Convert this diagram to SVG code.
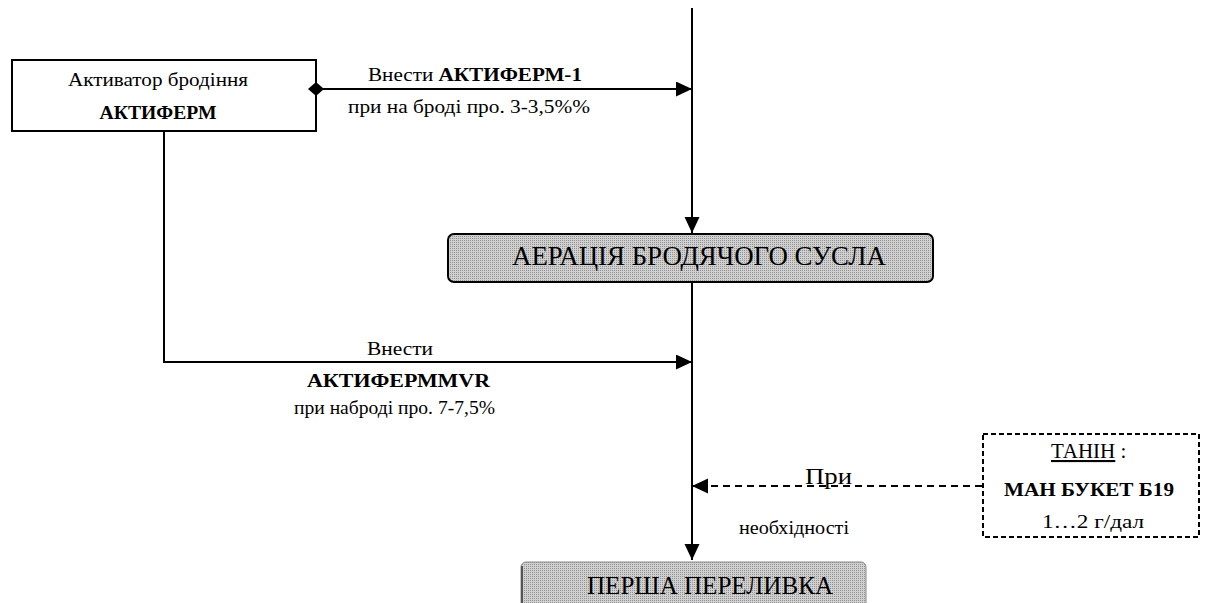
<svg xmlns="http://www.w3.org/2000/svg" width="1205" height="603" viewBox="0 0 1205 603">
<style>
text{font-family:"Liberation Serif","Times New Roman",serif;fill:#000}
.b{font-weight:bold}
.ln{stroke:#000;stroke-width:2;fill:none}
.dash{stroke:#000;stroke-width:2;fill:none;stroke-dasharray:7,5}
</style>
<defs>
<pattern id="tex" width="2" height="2" patternUnits="userSpaceOnUse">
<rect width="2" height="2" fill="#d0d0d0"/>
<rect width="1" height="1" fill="#929292"/>
</pattern>
<marker id="arr" markerUnits="userSpaceOnUse" markerWidth="17" markerHeight="16" refX="16" refY="7.5" orient="auto">
<path d="M0,0 L16,7.5 L0,15 z" fill="#000"/>
</marker>
<marker id="dia" markerUnits="userSpaceOnUse" markerWidth="18" markerHeight="18" refX="9" refY="9" orient="auto">
<path d="M1,9 L9,2 L17,9 L9,16 z" fill="#000"/>
</marker>
</defs>
<rect width="1205" height="603" fill="#fff"/>

<g id="activator">
<rect x="12" y="60" width="304" height="71" fill="#fff" stroke="#000" stroke-width="2"/>
<text x="158" y="86" font-size="19" text-anchor="middle" textLength="180" lengthAdjust="spacingAndGlyphs">Активатор бродіння</text>
<text x="158" y="119" font-size="19" class="b" text-anchor="middle" textLength="117" lengthAdjust="spacingAndGlyphs">АКТИФЕРМ</text>
</g>

<g id="label1">
<text x="368" y="81" font-size="19" textLength="214" lengthAdjust="spacingAndGlyphs">Внести <tspan class="b">АКТИФЕРМ-1</tspan></text>
<text x="348" y="113" font-size="19" textLength="242" lengthAdjust="spacingAndGlyphs">при на броді про. 3-3,5%%</text>
</g>

<g id="aeration">
<rect x="448" y="234" width="485" height="48" rx="6" fill="url(#tex)" stroke="#000" stroke-width="2"/>
<text x="512" y="265" font-size="28" textLength="374" lengthAdjust="spacingAndGlyphs">АЕРАЦІЯ БРОДЯЧОГО СУСЛА</text>
</g>

<g id="label2">
<text x="367" y="355" font-size="19" textLength="66" lengthAdjust="spacingAndGlyphs">Внести</text>
<text x="307" y="387" font-size="19" class="b" textLength="183" lengthAdjust="spacingAndGlyphs">АКТИФЕРМMVR</text>
<text x="294" y="414" font-size="19" textLength="201" lengthAdjust="spacingAndGlyphs">при набродi про. 7-7,5%</text>
</g>

<g id="label3">
<text x="805" y="484" font-size="23" textLength="47" lengthAdjust="spacingAndGlyphs">При</text>
<text x="739" y="534" font-size="19" textLength="110" lengthAdjust="spacingAndGlyphs">необхідності</text>
</g>

<g id="tanin">
<rect x="983" y="434" width="216" height="103" fill="#fff" stroke="#000" stroke-width="2" stroke-dasharray="5,3"/>
<text x="1051" y="458" font-size="21"><tspan text-decoration="underline">ТАНІН</tspan> :</text>
<text x="1004" y="496" font-size="18" class="b" textLength="170" lengthAdjust="spacingAndGlyphs">МАН БУКЕТ Б19</text>
<text x="1042" y="528" font-size="19" textLength="102" lengthAdjust="spacingAndGlyphs">1…2 г/дал</text>
</g>

<g id="pereliv">
<rect x="521" y="562" width="345" height="50" rx="5" fill="url(#tex)" stroke="#8a8a8a" stroke-width="1"/>
<line x1="522" y1="566" x2="522" y2="603" stroke="#555" stroke-width="2"/>
<text x="587" y="594" font-size="26" textLength="246" lengthAdjust="spacingAndGlyphs">ПЕРША ПЕРЕЛИВКА</text>
</g>

<g id="connectors">
<line class="ln" x1="692" y1="8" x2="692" y2="233" marker-end="url(#arr)"/>
<line class="ln" x1="316" y1="89" x2="692" y2="89" marker-start="url(#dia)" marker-end="url(#arr)"/>
<polyline class="ln" points="164,132 164,362 692,362" marker-end="url(#arr)"/>
<line class="ln" x1="692" y1="283" x2="692" y2="560" marker-end="url(#arr)"/>
<line class="dash" x1="982" y1="486" x2="692" y2="486" marker-end="url(#arr)"/>
</g>
</svg>
